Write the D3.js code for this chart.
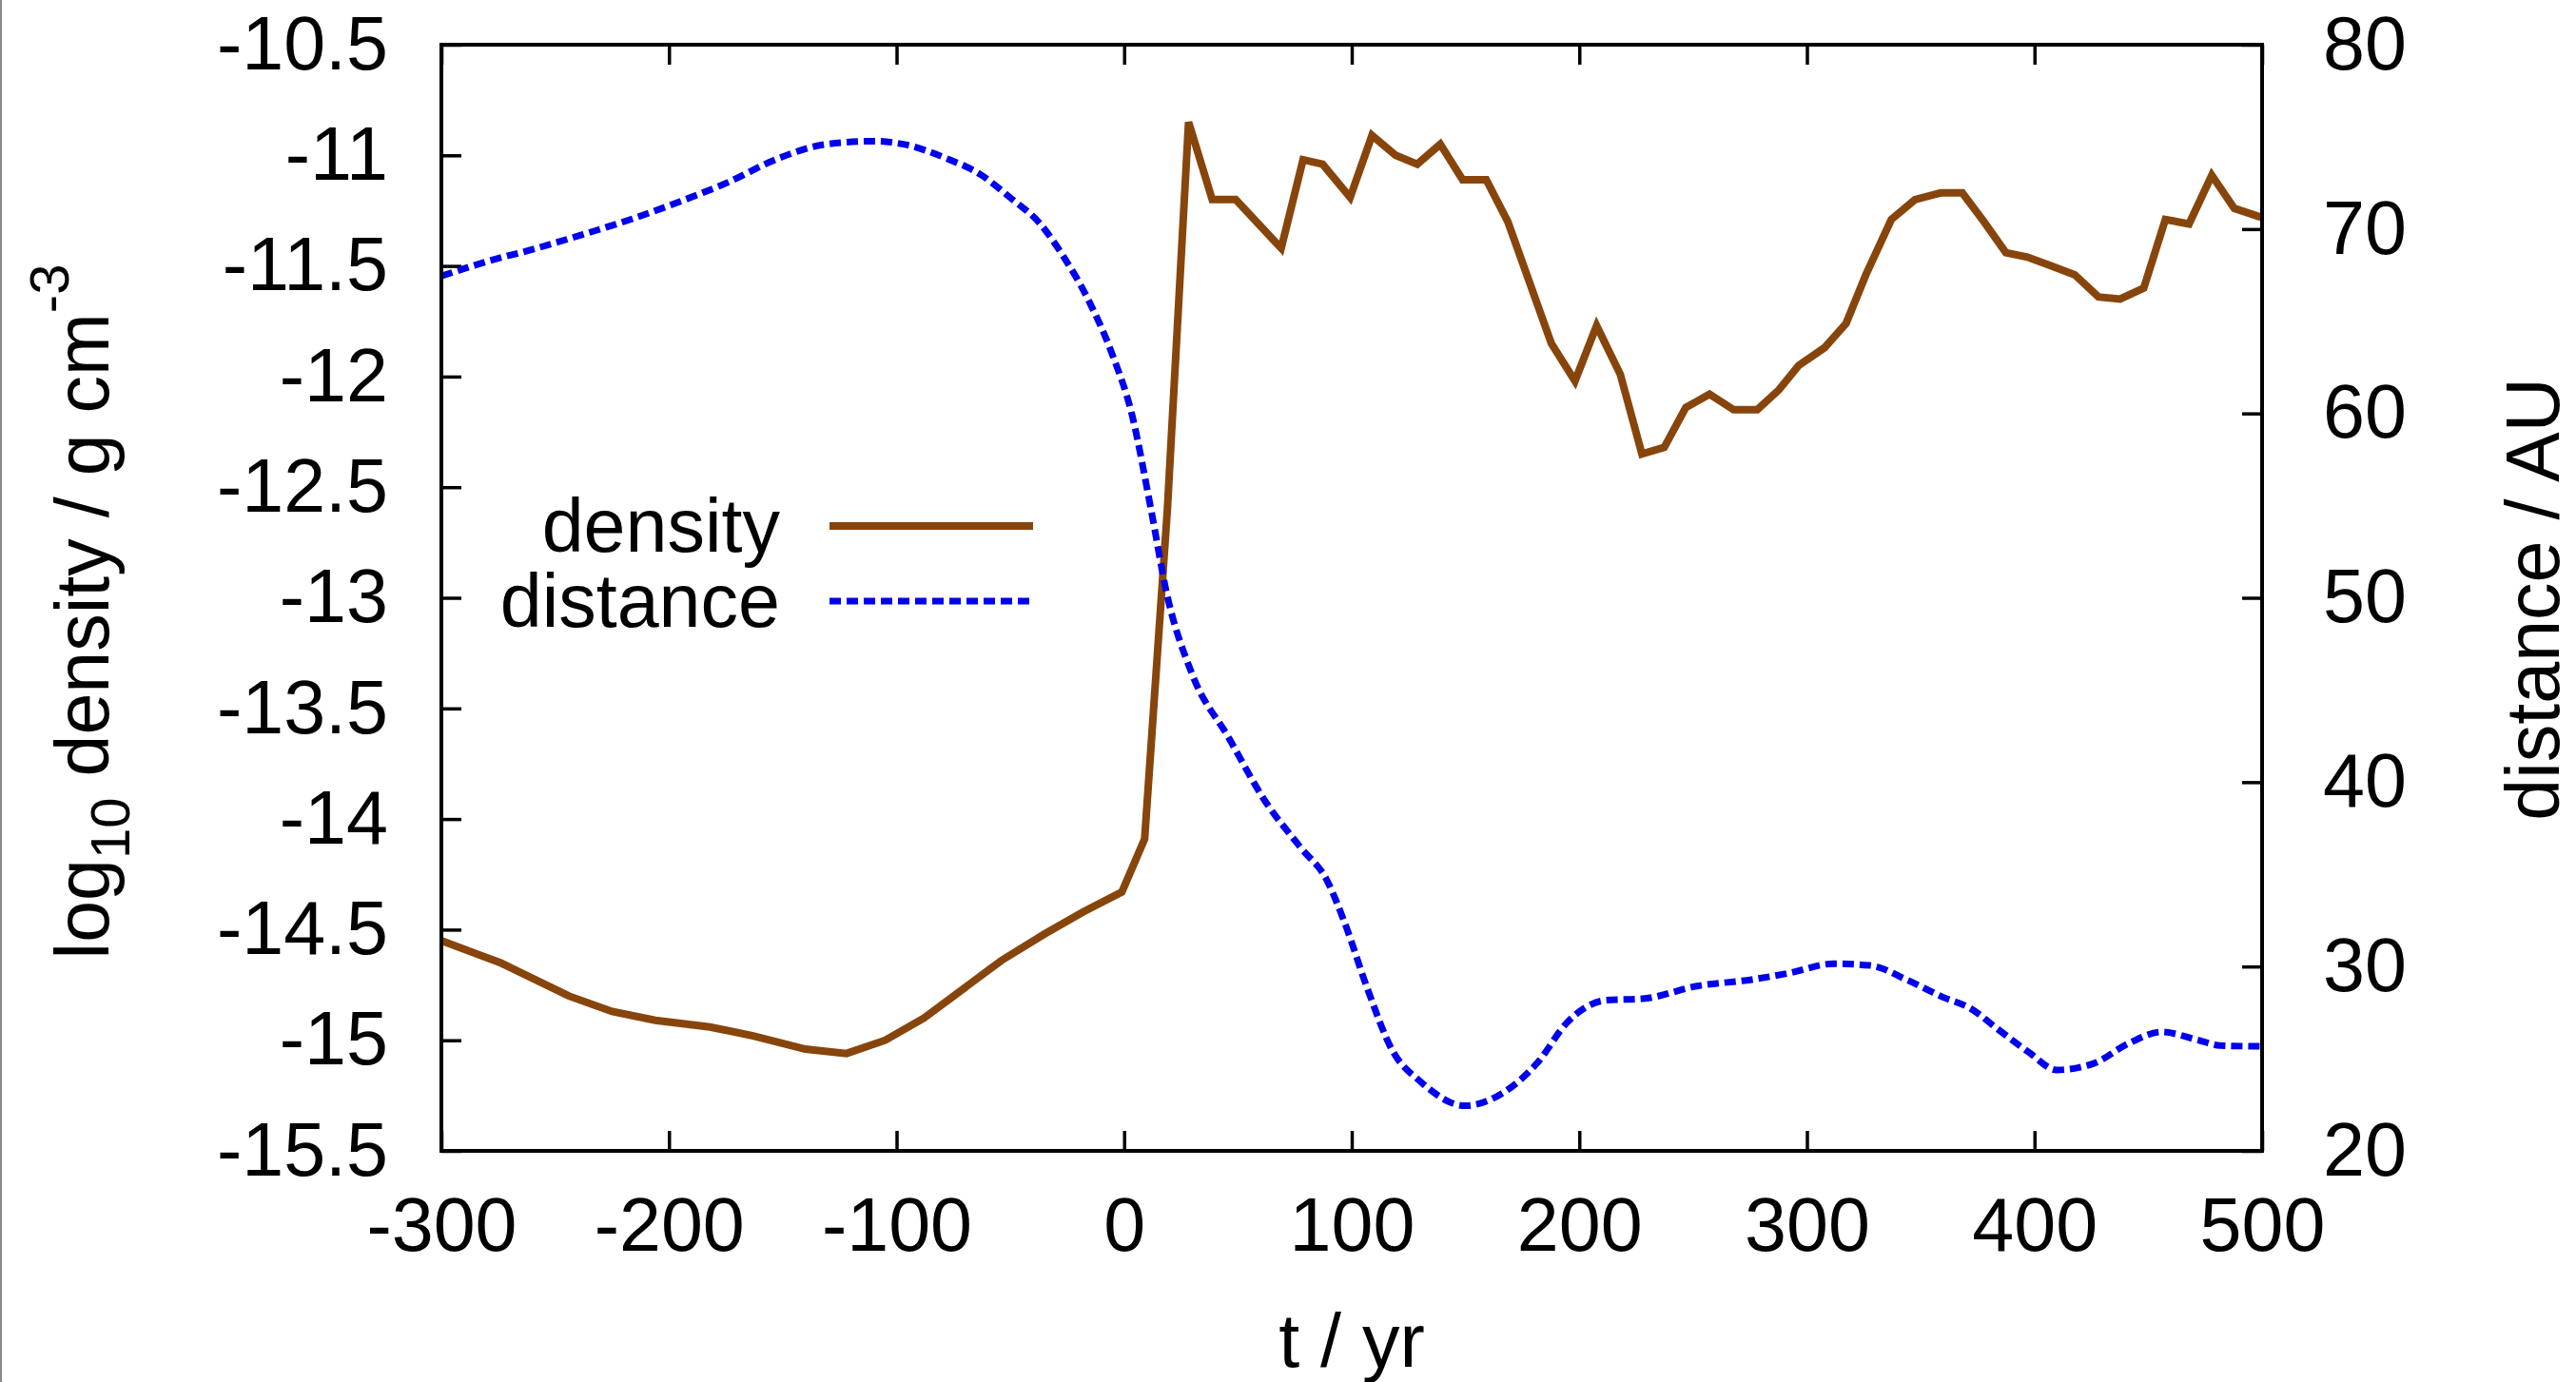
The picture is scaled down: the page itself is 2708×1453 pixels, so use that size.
<!DOCTYPE html>
<html><head><meta charset="utf-8">
<script src="https://cdn.jsdelivr.net/npm/d3@7"></script>
<style>html,body{margin:0;padding:0;background:#fff;overflow:hidden;} svg{display:block;}</style>
</head><body>
<script>
// ---- data ----
const xTicks = [-300, -200, -100, 0, 100, 200, 300, 400, 500];
const yLeftTicks = [-10.5, -11, -11.5, -12, -12.5, -13, -13.5, -14, -14.5, -15, -15.5];
const yRightTicks = [20, 30, 40, 50, 60, 70, 80];
const seriesNames = ["density", "distance"];

const densityT = [-300, -274, -244, -225, -206, -182, -163, -140, -122, -105, -88, -71, -54, -35, -18, -1, 9, 19, 28.3,
  38.7, 49, 69, 78.6, 87.2, 99.3, 108.9, 119.3, 128.8, 138.9, 148.7, 159.1, 168.6, 187.7, 198.1, 207.6, 218, 227.5,
  237.3, 246.8, 257.2, 267.8, 278.2, 287.7, 296.4, 307.7, 317.2, 325.9, 337.1, 347.5, 358.8, 368.3, 377.8, 387.4,
  396.9, 407.3, 417.7, 428.1, 437.6, 448, 457.5, 467.9, 477.9, 487.8, 499.5];
const densityV = [-14.55, -14.65, -14.80, -14.87, -14.91, -14.94, -14.98, -15.04, -15.06, -15.00, -14.90, -14.77, -14.64, -14.52, -14.42, -14.33, -14.09, -12.6, -10.85,
  -11.20, -11.20, -11.42, -11.02, -11.04, -11.19, -10.91, -11.00, -11.04, -10.95, -11.11, -11.11, -11.30, -11.85, -12.02, -11.77, -11.99, -12.35,
  -12.32, -12.14, -12.08, -12.15, -12.15, -12.06, -11.95, -11.87, -11.76, -11.54, -11.29, -11.20, -11.17, -11.17, -11.30, -11.44,
  -11.46, -11.50, -11.54, -11.64, -11.65, -11.60, -11.29, -11.31, -11.09, -11.24, -11.28];

const distanceT = [-300, -280, -259, -238, -216, -195, -174, -152, -131, -110, -97, -78, -63, -50, -37, -26.6, -15.9, -5.2, 3.3, 11.8,
  18.6, 29.8, 45.8, 61.8, 77.8, 89, 97, 106.6, 117.8, 130.4, 149.8, 165.8, 181.8, 194.6, 211.7, 227.7, 251.7, 275.7,
  291.7, 311.7, 327.7, 343.7, 359.7, 371.7, 383.7, 397.7, 409.7, 425.7, 441.7, 455.7, 471.6, 481.6, 500];
const distanceV = [67.45, 68.24, 68.93, 69.70, 70.56, 71.5, 72.54, 73.83, 74.60, 74.77, 74.60, 73.83, 72.95, 71.7, 70.3, 68.5, 66.2, 63.2, 60.0, 54.8,
  50.3, 45.88, 42.44, 39.0, 36.42, 34.70, 32.34, 28.9, 25.46, 23.74, 22.45, 23.10, 24.81, 26.96, 28.17, 28.25, 28.94, 29.29,
  29.63, 30.15, 30.06, 29.29, 28.34, 27.74, 26.62, 25.33, 24.39, 24.73, 25.85, 26.45, 26.02, 25.71, 25.67];

// ---- layout ----
const W = 2708, H = 1453;
const L = 464, R = 2378, T = 47, B = 1210;
const font = "'Liberation Sans', Arial, Helvetica, sans-serif";
const FS = 79;
const brown = "#87450c", blue = "#0000ee";

const x = d3.scaleLinear().domain([-300, 500]).range([L, R]);
const yL = d3.scaleLinear().domain([-15.5, -10.5]).range([B, T]);
const yR = d3.scaleLinear().domain([20, 80]).range([B, T]);

const svg = d3.select("body").append("svg").attr("width", W).attr("height", H)
  .attr("font-family", font);
svg.append("rect").attr("width", W).attr("height", H).attr("fill", "#fff");
// thin grey edge at the image's left border
svg.append("line").attr("x1", 1).attr("x2", 1).attr("y1", 0).attr("y2", H)
  .attr("stroke", "#8a8a8a").attr("stroke-width", 2);

svg.append("clipPath").attr("id", "plotclip").append("rect")
  .attr("x", L).attr("y", T).attr("width", R - L).attr("height", B - T);

function styleAxis(g) {
  g.select(".domain").remove();
  g.attr("font-size", FS).attr("font-family", font);
  g.selectAll(".tick line").attr("stroke", "#000").attr("stroke-width", 3.5);
  g.selectAll(".tick text").attr("fill", "#000");
}
const fmt = d => String(d);

svg.append("g").attr("transform", `translate(0,${B})`)
  .call(d3.axisBottom(x).tickValues(xTicks).tickSize(-21).tickPadding(49).tickFormat(fmt))
  .call(styleAxis);
svg.append("g").attr("transform", `translate(0,${T})`)
  .call(d3.axisTop(x).tickValues(xTicks).tickSize(-21).tickFormat(""))
  .call(styleAxis);
svg.append("g").attr("transform", `translate(${L},0)`)
  .call(d3.axisLeft(yL).tickValues(yLeftTicks).tickSize(-21).tickPadding(56).tickFormat(fmt))
  .call(styleAxis);
svg.append("g").attr("transform", `translate(${R},0)`)
  .call(d3.axisRight(yR).tickValues(yRightTicks).tickSize(-21).tickPadding(64).tickFormat(fmt))
  .call(styleAxis);

// ---- series ----
const densityData = densityT.map((t, i) => ({ t, v: densityV[i] }));
const distanceData = distanceT.map((t, i) => ({ t, v: distanceV[i] }));

const plot = svg.append("g").attr("clip-path", "url(#plotclip)");
plot.append("path").datum(densityData)
  .attr("d", d3.line().x(d => x(d.t)).y(d => yL(d.v)))
  .attr("fill", "none").attr("stroke", brown).attr("stroke-width", 8)
  .attr("stroke-linejoin", "miter");
plot.append("path").datum(distanceData)
  .attr("d", d3.line().curve(d3.curveMonotoneX).x(d => x(d.t)).y(d => yR(d.v)))
  .attr("fill", "none").attr("stroke", blue).attr("stroke-width", 7)
  .attr("stroke-dasharray", "12,6");

// frame
svg.append("rect").attr("x", L).attr("y", T).attr("width", R - L).attr("height", B - T)
  .attr("fill", "none").attr("stroke", "#000").attr("stroke-width", 4);

// ---- legend ----
const legend = svg.append("g");
const legY = [553, 632];
const legStyle = [{ c: brown, w: 8, dash: null }, { c: blue, w: 7, dash: "12,6" }];
seriesNames.forEach((name, i) => {
  legend.append("text").attr("x", 820).attr("y", legY[i] + 27).attr("text-anchor", "end")
    .attr("font-size", FS).attr("fill", "#000").text(name);
  const ln = legend.append("line").attr("x1", 872).attr("x2", 1086).attr("y1", legY[i]).attr("y2", legY[i])
    .attr("stroke", legStyle[i].c).attr("stroke-width", legStyle[i].w);
  if (legStyle[i].dash) ln.attr("stroke-dasharray", legStyle[i].dash);
});

// ---- axis titles ----
svg.append("text").attr("x", (L + R) / 2).attr("y", 1437).attr("text-anchor", "middle")
  .attr("font-size", FS).attr("fill", "#000").text("t / yr");

const yt = svg.append("text").attr("transform", `translate(114,643) rotate(-90)`)
  .attr("text-anchor", "middle").attr("font-size", FS).attr("fill", "#000");
yt.append("tspan").text("log");
yt.append("tspan").attr("font-size", 58).attr("dy", 22).text("10");
yt.append("tspan").attr("dy", -22).text(" density / g cm");
yt.append("tspan").attr("font-size", 58).attr("dy", -42).text("-3");

svg.append("text").attr("transform", `translate(2690,630) rotate(-90)`)
  .attr("text-anchor", "middle").attr("font-size", FS).attr("fill", "#000").text("distance / AU");
</script>
</body></html>
